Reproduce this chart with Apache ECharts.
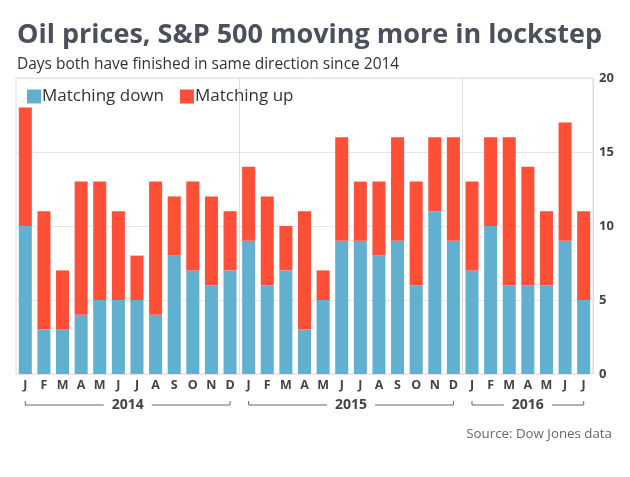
<!DOCTYPE html>
<html><head><meta charset="utf-8">
<script src="https://cdn.jsdelivr.net/npm/echarts@6/dist/echarts.min.js"></script>
<style>html,body{margin:0;padding:0;background:#fff}#c{width:630px;height:477px}</style>
</head><body><div id="c"></div>
<script>
const months = ['J','F','M','A','M','J','J','A','S','O','N','D','J','F','M','A','M','J','J','A','S','O','N','D','J','F','M','A','M','J','J'];
const matchingDown = [10,3,3,4,5,5,5,4,8,7,6,7, 9,6,7,3,5,9,9,8,9,6,11,9, 7,10,6,6,6,9,5];
const totals =       [18,11,7,13,13,11,8,13,12,13,12,11, 14,12,10,11,7,16,13,13,16,13,16,16, 13,16,16,14,11,17,11];
const matchingUp = totals.map((t,i)=>t-matchingDown[i]);
const years = [{label:'2014',from:0,to:11},{label:'2015',from:12,to:23},{label:'2016',from:24,to:30}];

const FONT = 'Open Sans';
const chart = echarts.init(document.getElementById('c'));
chart.setOption({
  animation:false,
  title:[
    {text:'Oil prices, S&P 500 moving more in lockstep', left:12, top:17,
     textStyle:{fontFamily:FONT, fontWeight:'bold', fontSize:27, color:'#4b505c'}},
    {text:'Days both have finished in same direction since 2014', left:12, top:52,
     textStyle:{fontFamily:FONT, fontWeight:'normal', fontSize:15.5, color:'#333'}},
    {text:'Source: Dow Jones data', right:13, top:423,
     textStyle:{fontFamily:FONT, fontWeight:'normal', fontSize:13.3, color:'#666'}}
  ],
  legend:{left:22, top:83, itemWidth:14, itemHeight:14, itemGap:16, icon:'rect',
    textStyle:{fontFamily:FONT, fontSize:17, color:'#333', padding:[0,0,0,-4]},
    data:['Matching down','Matching up']},
  grid:{left:16, right:37, top:78, bottom:103, show:true, borderColor:'#dcdde2', borderWidth:1},
  xAxis:{type:'category', data:months, boundaryGap:true,
    axisLine:{show:false}, axisTick:{show:false},
    axisLabel:{fontFamily:FONT, fontWeight:'bold', fontSize:12.5, color:'#444', margin:5, interval:0},
    splitLine:{show:true, interval:function(i){return i===12||i===24;}, lineStyle:{color:'#dcdde2', width:1}}},
  yAxis:{type:'value', position:'right', min:0, max:20, interval:5,
    axisLine:{show:false}, axisTick:{show:false},
    axisLabel:{fontFamily:FONT, fontWeight:'bold', fontSize:13, color:'#444', margin:6},
    splitLine:{lineStyle:{color:'#e6e6e9', width:1}}},
  series:[
    {name:'Matching down', type:'bar', stack:'a', data:matchingDown, barWidth:'70%',
     itemStyle:{color:'#62b0cf'}},
    {name:'Matching up', type:'bar', stack:'a', data:matchingUp, barWidth:'70%',
     itemStyle:{color:'#ff4f37'}}
  ]
});

const yBr = 405;
const els = [];
years.forEach(y=>{
  const x1 = chart.convertToPixel({xAxisIndex:0}, y.from);
  const x2 = chart.convertToPixel({xAxisIndex:0}, y.to);
  els.push({type:'polyline', shape:{points:[[x1,yBr-4],[x1,yBr],[x2,yBr],[x2,yBr-4]]},
    style:{stroke:'#666', lineWidth:1, fill:null}, silent:true});
  els.push({type:'text', x:(x1+x2)/2, y:yBr, z:10,
    style:{text:y.label, fontFamily:FONT, fontWeight:'bold', fontSize:14, fill:'#444',
      align:'center', verticalAlign:'middle', backgroundColor:'#fff', padding:[0,8]}});
});
chart.setOption({graphic:els});
</script></body></html>
